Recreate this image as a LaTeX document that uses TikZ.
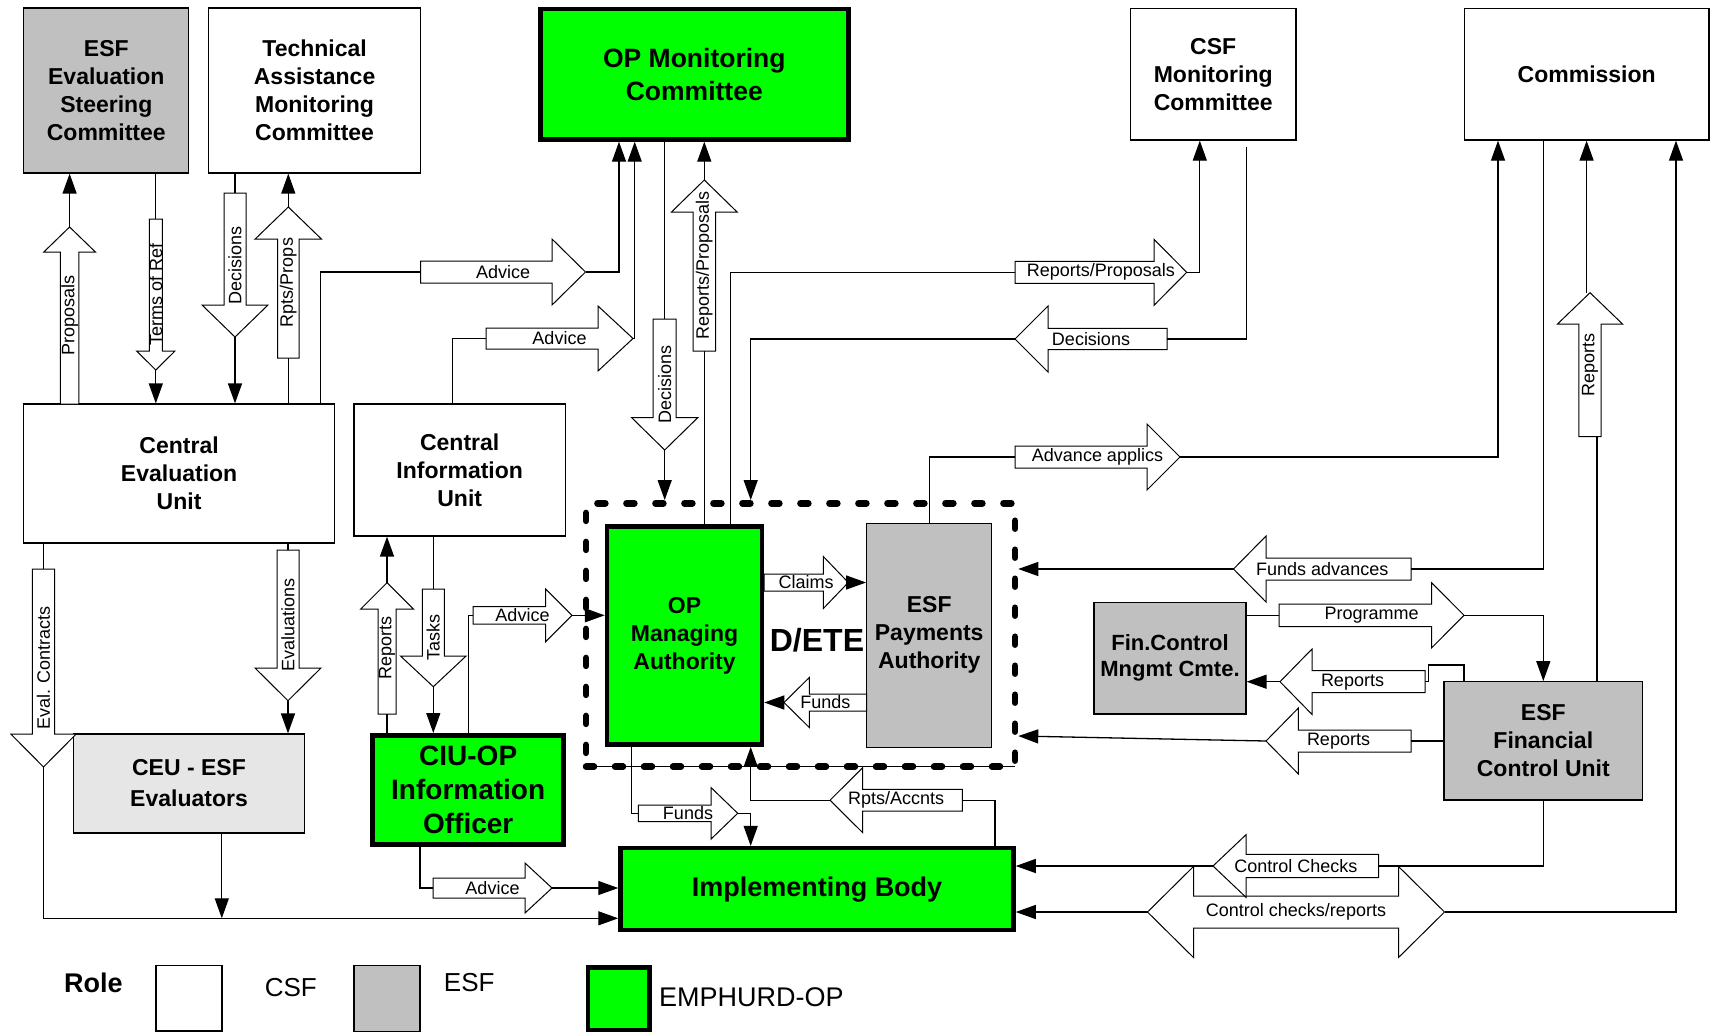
\documentclass[tikz,border=0pt]{standalone}
\usepackage{fontspec}
\setmainfont{Liberation Sans}
\usetikzlibrary{arrows.meta}
\definecolor{esfgray}{RGB}{192,192,192}
\definecolor{ceugray}{RGB}{230,230,230}
\definecolor{opgreen}{RGB}{0,255,0}
\newcommand\bxf{\fontsize{23}{28}\selectfont\bfseries}
\newcommand\bgf{\fontsize{27}{34}\selectfont\bfseries}
\newcommand\opf{\fontsize{26.5}{33}\selectfont\bfseries}
\newcommand\lbf{\fontsize{18}{20}\selectfont}
% horizontal block arrow: name, tail x, head-base x, tip x, centre y, shaft half, head half, label
\newcommand\harr[8]{%
 \draw[blk] (#2,#5-#6) -- (#3,#5-#6) -- (#3,#5-#7) -- (#4,#5) -- (#3,#5+#7) -- (#3,#5+#6) -- (#2,#5+#6) -- cycle;
 \node[lbl] (#1-l) at ({(#2+#4)/2},#5) {#8};
 \coordinate (#1-s) at (#2,#5);
 \coordinate (#1-t) at (#4,#5);}
% vertical block arrow: name, centre x, tail y, head-base y, tip y, shaft half, head half, label
\newcommand\varr[8]{%
 \draw[blk] (#2-#6,#3) -- (#2-#6,#4) -- (#2-#7,#4) -- (#2,#5) -- (#2+#7,#4) -- (#2+#6,#4) -- (#2+#6,#3) -- cycle;
 \node[lbl,rotate=90] (#1-l) at (#2,{(#3+#5)/2}) {#8};
 \coordinate (#1-s) at (#2,#3);
 \coordinate (#1-t) at (#2,#5);}
\tikzset{
 box/.style={draw, line width=1.2pt, fill=white, align=center, inner sep=0pt, font=\bxf},
 esfbox/.style={box, fill=esfgray},
 opbox/.style={draw, line width=4.5pt, fill=opgreen, align=center, inner sep=0pt},
 blk/.style={draw, fill=white, line width=1pt},
 lbl/.style={font=\lbf, inner sep=0pt},
 arr/.style={-{Triangle[length=20pt,width=14pt]}},
 dashbox/.style={draw, dash pattern=on 8pt off 21pt, line width=6.5pt, line cap=round, inner sep=0pt},
}
\begin{document}
\begin{tikzpicture}[x=1pt,y=-1pt,line width=1.3pt]
\fill[white] (0,0) rectangle (1711,1034);
\useasboundingbox (0,0) rectangle (1711,1034);

% dashed D/ETE frame
\node[dashbox, minimum width=429, minimum height=263.4] (dbox) at (800.5,635) {};
\draw[line width=1pt] (593,766.7) -- (1015,766.7);

% boxes
\node[esfbox, minimum width=165, minimum height=165] (esc) at (106.3,90.5) {ESF\\Evaluation\\Steering\\Committee};
\node[box, minimum width=212, minimum height=165] (tamc) at (314.6,90.5) {Technical\\Assistance\\Monitoring\\Committee};
\node[opbox, font=\opf, minimum width=308, minimum height=130.5] (opmc) at (694.3,74.2) {OP Monitoring\\Committee};
\node[box, minimum width=165.6, minimum height=131.7] (csfmc) at (1213.2,74.2) {CSF\\Monitoring\\Committee};
\node[box, minimum width=244.6, minimum height=131.7] (comm) at (1586.7,74.2) {Commission};
\node[box, minimum width=310.8, minimum height=139] (ceu) at (179.1,473.5) {Central\\Evaluation\\Unit};
\node[box, minimum width=211.4, minimum height=132] (ciu) at (459.7,470) {Central\\Information\\Unit};
\node[opbox, font=\bxf, minimum width=155, minimum height=218.4] (opma) at (684.5,635.5) {OP\\Managing\\Authority};
\node[esfbox, minimum width=125, minimum height=224] (esfpa) at (929.2,635.3) {ESF\\Payments\\Authority};
\node[box, fill=ceugray, font=\fontsize{23}{31}\selectfont\bfseries, minimum width=231, minimum height=99] (ceuesf) at (189,783.5) {CEU - ESF\\Evaluators};
\node[opbox, font=\fontsize{28}{34}\selectfont\bfseries, minimum width=191, minimum height=109] (ciuop) at (468.2,789.8) {CIU-OP\\Information\\Officer};
\node[esfbox, font=\fontsize{22}{26}\selectfont\bfseries, minimum width=152, minimum height=111.3] (fcmc) at (1170,658.3) {Fin.Control\\Mngmt Cmte.};
\node[esfbox, minimum width=198.6, minimum height=118.3] (fcu) at (1543.3,740.8) {ESF\\Financial\\Control Unit};
\node[opbox, font=\bgf, minimum width=393, minimum height=82] (ib) at (817,889.2) {Implementing Body};
\node[font=\fontsize{32}{32}\selectfont\bfseries, inner sep=0pt] (dete) at (817,640.7) {D/ETE};

% legend
\node[font=\fontsize{27}{27}\selectfont\bfseries, inner sep=0pt] (role) at (93.5,983) {Role};
\node[box, minimum width=66, minimum height=65.3] (lcsf) at (189,998.4) {};
\node[font=\fontsize{26}{26}\selectfont, inner sep=0pt] (tcsf) at (290.8,987.7) {CSF};
\node[esfbox, minimum width=66, minimum height=65.7] (lesf) at (387,998.7) {};
\node[font=\fontsize{26}{26}\selectfont, inner sep=0pt] (tesf) at (469.2,982.3) {ESF};
\node[opbox, minimum width=61.5, minimum height=62.5] (lop) at (618.5,998.5) {};
\node[font=\fontsize{27}{27}\selectfont, inner sep=0pt, anchor=west] (top) at (658.4,996.7) {EMPHURD-OP};

% horizontal block arrows
\harr{a1}{420.6}{552}{585.5}{272}{11}{33}{Advice}
\harr{a2}{486}{598}{633}{338.5}{10.5}{32.5}{Advice}
\harr{a3}{1015}{1154}{1186.7}{272.3}{11}{33}{Reports/Proposals}
\harr{a4}{1167}{1048}{1015}{339}{10.7}{33}{Decisions}
\harr{a5}{1015}{1147}{1180}{457}{11}{33}{Advance applics}
\harr{a6}{1411}{1266}{1233.5}{569}{11}{33}{Funds advances}
\harr{a7}{1279}{1431.7}{1464}{615.3}{11.3}{32.5}{Programme}
\harr{a8}{1425}{1312}{1280}{681.7}{11}{32.7}{Reports}
\harr{a9}{1411}{1298.4}{1266}{741}{11}{33}{Reports}
\harr{a10}{764}{823.3}{848.3}{582.5}{8.5}{26}{Claims}
\harr{a11}{866.7}{809.3}{784}{702.5}{8.5}{25}{Funds}
\harr{a12}{473}{545.7}{572}{615.3}{8.7}{26.3}{Advice}
\harr{a13}{638.3}{711}{737.7}{813.3}{8.3}{25.8}{Funds}
\harr{a14}{962.3}{862.7}{830}{800.2}{10.8}{32.5}{Rpts/Accnts}
\harr{a15}{433}{525}{552}{888}{10}{25}{Advice}
% double block arrow
\draw[blk] (1147.5,912) -- (1193.5,866.5) -- (1193.5,896) -- (1398.5,896) -- (1398.5,866.5) -- (1444.5,912) -- (1398.5,957.5) -- (1398.5,928) -- (1193.5,928) -- (1193.5,957.5) -- cycle;
\node[lbl] (a17-l) at (1296,912) {Control checks/reports};
\coordinate (a17-a) at (1147.5,912);
\coordinate (a17-b) at (1444.5,912);
\harr{a16}{1378.6}{1246}{1213}{866}{11.7}{31.3}{Control Checks}

% vertical block arrows
\varr{v1}{69.6}{404}{252}{227}{9.2}{25.8}{Proposals}
\varr{v2}{155.8}{219}{351}{370}{6.5}{19.2}{Terms of Ref}
\varr{v3}{235}{193}{305}{337}{11}{33}{Decisions}
\varr{v4}{288.3}{358}{239}{207}{10.8}{33.1}{Rpts/Props}
\varr{v5}{664.7}{319}{417.7}{450}{11.5}{33}{Decisions}
\varr{v6}{704.3}{351}{212}{180}{11.3}{32.8}{Reports/Proposals}
\varr{v7}{1590}{436.7}{324}{292.7}{11.2}{32.5}{Reports}
\varr{v8}{43.5}{569}{734}{767}{11.1}{32.7}{Eval. Contracts}
\varr{v9}{288}{550}{668}{700.7}{11}{33}{Evaluations}
\varr{v10}{387}{714}{609}{582.7}{9}{26.3}{Reports}
\varr{v11}{433.3}{589}{656}{686.7}{11}{32.8}{Tasks}

% connectors: top left
\draw[arr] (v1-t) -- (v1-t |- esc.south);
\draw (v2-s |- esc.south) -- (v2-s);
\draw[arr] (v2-t) -- (v2-t |- ceu.north);
\draw (v3-s |- tamc.south) -- (v3-s);
\draw[arr] (v3-t) -- (v3-t |- ceu.north);
\draw (v4-s |- ceu.north) -- (v4-s);
\draw[arr] (v4-t) -- (v4-t |- tamc.south);
\draw (320.7,0 |- ceu.north) |- (a1-s);
\draw[arr] (a1-t) -| (619,0 |- opmc.south);
\draw (452.7,0 |- ciu.north) |- (a2-s);
\draw[arr] (a2-t) -| (634.7,0 |- opmc.south);
% OP monitoring / CSF
\draw (v5-s |- opmc.south) -- (v5-s);
\draw[arr] (v5-t) -- (v5-t |- dbox.north);
\draw (v6-s) -- (v6-s |- opma.north);
\draw[arr] (v6-t) -- (v6-t |- opmc.south);
\draw (730.7,0 |- opma.north) |- (a3-s);
\draw[arr] (a3-t) -| (1199.8,0 |- csfmc.south);
\draw (1246.5,146.7) |- (a4-s);
\draw[arr] (a4-t) -| (750.7,0 |- dbox.north);
% commission side
\draw (esfpa.north) |- (a5-s);
\draw[arr] (a5-t) -| (1498,0 |- comm.south);
\draw (1543.5,0 |- comm.south) |- (a6-s);
\draw[arr] (a6-t) -- (a6-t -| dbox.east);
\draw (fcmc.east |- a7-s) -- (a7-s);
\draw[arr] (a7-t) -| (fcu.north);
\draw (1464,0 |- fcu.north) |- (1428.6,665) -- (1428.6,681.7) -- (a8-s);
\draw[arr] (a8-t) -- (a8-t -| fcmc.east);
\draw (fcu.west |- a9-s) -- (a9-s);
\draw[arr] (a9-t) -- (dbox.east |- 0,736);
\draw (1597,0 |- fcu.north) -- (1597,0 |- v7-s);
\draw[arr] (1586.6,0 |- v7-t) -- (1586.6,0 |- comm.south);
\draw (fcu.south) |- (a16-s);
\draw[arr] (a16-t) -- (a16-t -| ib.east);
\draw[arr] (a17-b) -| (1676,0 |- comm.south);
\draw[arr] (a17-a) -- (a17-a -| ib.east);
% middle
\draw[arr] (a10-t) -- (a10-t -| esfpa.west);
\draw[arr] (a11-t) -- (a11-t -| opma.east);
\draw (468.6,0 |- ciuop.north) |- (a12-s);
\draw[arr] (a12-t) -- (a12-t -| opma.west);
\draw (631.7,0 |- opma.south) |- (a13-s);
\draw[arr] (a13-t) -| (750.7,0 |- ib.north);
\draw (995,0 |- ib.north) |- (a14-s);
\draw[arr] (a14-t) -| (750.7,0 |- opma.south);
\draw (420,0 |- ciuop.south) |- (a15-s);
\draw[arr] (a15-t) -- (a15-t -| ib.west);
\draw (v10-s) -- (v10-s |- ciuop.north);
\draw[arr] (v10-t) -- (v10-t |- ciu.south);
\draw (v11-s |- ciu.south) -- (v11-s);
\draw[arr] (v11-t) -- (v11-t |- ciuop.north);
% left
\draw (v8-s |- ceu.south) -- (v8-s);
\draw[arr] (v8-t) |- (ib.west |- 0,918.3);
\draw (v9-s |- ceu.south) -- (v9-s);
\draw[arr] (v9-t) -- (v9-t |- ceuesf.north);
\draw[arr] (221.8,0 |- ceuesf.south) -- (221.8,918.3);
\end{tikzpicture}
\end{document}
